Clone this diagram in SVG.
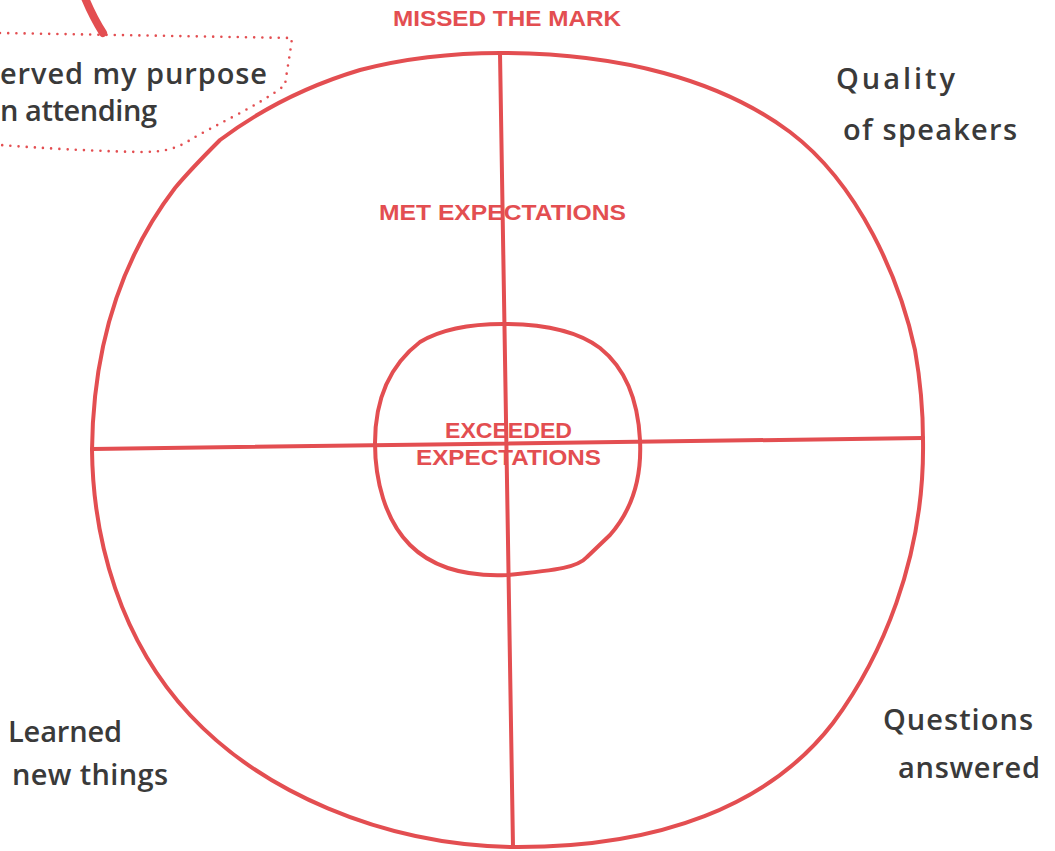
<svg xmlns="http://www.w3.org/2000/svg" width="1055" height="851" viewBox="0 0 1055 851">
<style>
.ring{fill:none;stroke:#e34e51;stroke-width:4;stroke-linejoin:round}
.line{fill:none;stroke:#e34e51;stroke-width:4;stroke-linecap:round}
.dots{fill:none;stroke:#e34e51;stroke-width:2.6;stroke-dasharray:0 8.2;stroke-linecap:round}
.lbl{font-family:"Liberation Sans",Arial,sans-serif;font-weight:bold;font-size:22px;fill:#e34e51}
.hand{font-family:"Open Sans","Noto Sans",sans-serif;font-weight:600;font-size:29px;fill:#3a3a3a}
</style>
<rect width="1055" height="851" fill="#ffffff"/>
<g id="callout">
<path class="dots" d="M0,33 L292,38 C290,55 287,70 285,85 C260,105 215,125 190,140 C175,150 160,152 140,152 C90,151 40,148 0,145"/>
<path d="M85,-2 C90,10 96,22 103,33" fill="none" stroke="#e34e51" stroke-width="8" stroke-linecap="round"/>
<text class="hand" x="0" y="84" textLength="267" lengthAdjust="spacing">erved my purpose</text>
<text class="hand" x="0" y="121" textLength="157" lengthAdjust="spacing">n attending</text>
</g>
<g id="outer-ring">
<path class="ring" d="M500,53 C620,53 720,80 790,132 C860,185 900,280 915,350 C922,390 923,420 923,440 C925,560 880,660 833,723 C770,805 660,848 513,847 C380,845 260,790 190,715 C120,640 93,540 92,450 C93,350 120,260 175,188 C190,170 205,155 220,140 C260,110 310,85 360,70 C410,57 460,53 500,53 Z"/>
<text class="lbl" x="393" y="25.5" textLength="228" lengthAdjust="spacingAndGlyphs">MISSED THE MARK</text>
</g>
<g id="middle-ring">
<text class="lbl" x="379" y="220" textLength="247" lengthAdjust="spacingAndGlyphs">MET EXPECTATIONS</text>
</g>
<g id="inner-ring">
<path class="ring" d="M503,324 C550,324 580,333 600,348 C625,368 638,400 640,440 C642,480 632,510 610,535 L587,557 C578,567 560,570 507,575 C460,577 430,565 410,545 C385,520 375,480 375,443 C375,400 390,365 420,342 C440,330 470,324 503,324 Z"/>
<text class="lbl" x="445" y="438" textLength="127" lengthAdjust="spacingAndGlyphs">EXCEEDED</text>
<text class="lbl" x="416" y="465" textLength="185" lengthAdjust="spacingAndGlyphs">EXPECTATIONS</text>
</g>
<g id="connectors">
<path class="line" d="M92,449 L923,438"/>
<path class="line" d="M500,53 L513,847"/>
</g>
<g id="quality">
<text class="hand" x="836" y="89" textLength="119" lengthAdjust="spacing">Quality</text>
<text class="hand" x="843" y="140" textLength="174" lengthAdjust="spacing">of speakers</text>
</g>
<g id="learned">
<text class="hand" x="8" y="742" textLength="114" lengthAdjust="spacing">Learned</text>
<text class="hand" x="12" y="785" textLength="156" lengthAdjust="spacing">new things</text>
</g>
<g id="questions">
<text class="hand" x="883" y="730" textLength="150" lengthAdjust="spacing">Questions</text>
<text class="hand" x="898" y="778" textLength="142" lengthAdjust="spacing">answered</text>
</g>
</svg>
